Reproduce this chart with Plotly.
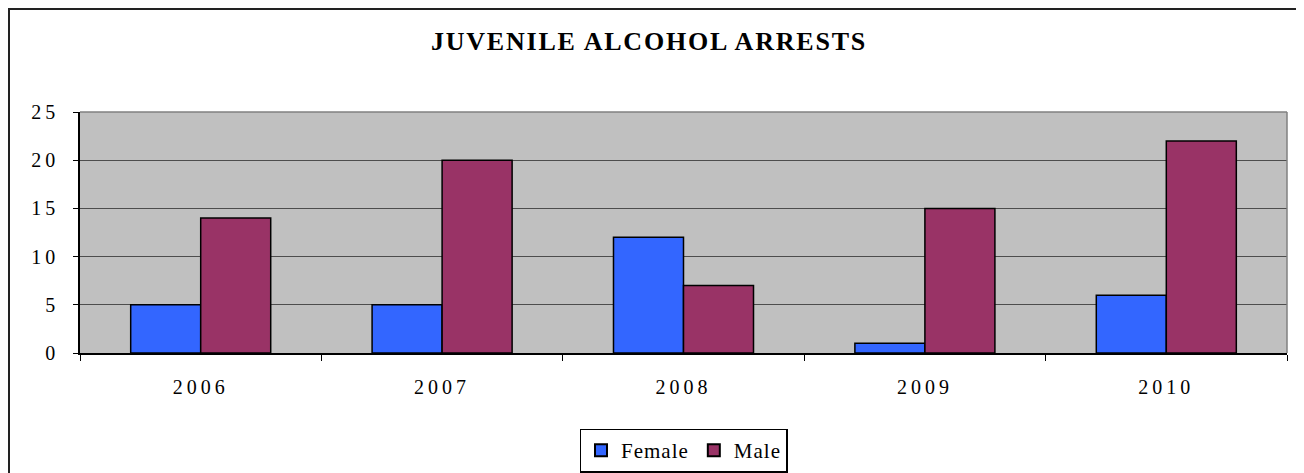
### Imports ###
import plotly.graph_objects as go


### Data ###
years = ["2006", "2007", "2008", "2009", "2010"]
female = [5, 5, 12, 1, 6]
male = [14, 20, 7, 15, 22]
y_ticks = [0, 5, 10, 15, 20, 25]


def spaced(text, px=3):
    return f'<span style="letter-spacing:{px}px">{text}</span>'


### Plotting Functions ###
def plot_arrests():
    fig = go.Figure()
    fig.add_trace(go.Bar(x=years, y=female, name=spaced("Female", 1), marker_color="#3366FF",
                         marker_line=dict(color="black", width=1.5)))
    fig.add_trace(go.Bar(x=years, y=male, name=spaced("Male", 1), marker_color="#993366",
                         marker_line=dict(color="black", width=1.5)))

    # the page body adds an 8px offset, so the figure is 8px smaller
    fig.update_layout(
        width=1296,
        height=465,
        margin=dict(l=72, r=17, t=104, b=120, autoexpand=False),
        paper_bgcolor="white",
        plot_bgcolor="#C0C0C0",
        barmode="group",
        bargap=0.42,
        bargroupgap=0,
        font=dict(family="Liberation Serif", size=19, color="black"),
        title=dict(
            text="<b>" + spaced("JUVENILE ALCOHOL ARRESTS", 1.8) + "</b>",
            x=0.4946, xref="container", xanchor="center",
            y=1 - 33 / 465, yref="container", yanchor="middle",
            font=dict(size=26, family="Liberation Serif"),
        ),
        legend=dict(
            orientation="h",
            x=0.5, xanchor="center",
            y=-0.405, yanchor="middle",
            bordercolor="black", borderwidth=1.5,
            bgcolor="white",
            font=dict(size=21),
            itemsizing="constant",
            itemwidth=30,
        ),
        showlegend=True,
    )

    fig.update_xaxes(
        type="category",
        tickvals=years,
        ticktext=[spaced(y, 4) for y in years],
        tickson="boundaries",
        ticks="outside", ticklen=6, tickcolor="black", tickwidth=1,
        ticklabelstandoff=15,
        showline=True, linecolor="black", linewidth=1.5,
        showgrid=False,
        tickfont=dict(size=20),
    )
    fig.update_yaxes(
        range=[0, 25],
        tickvals=y_ticks,
        ticktext=[spaced(str(v), 4) for v in y_ticks],
        ticks="outside", ticklen=5, tickcolor="black", tickwidth=1,
        ticklabelstandoff=10,
        showline=True, linecolor="black", linewidth=1.5,
        showgrid=True, gridcolor="#4D4D4D", gridwidth=1,
        zeroline=False,
        tickfont=dict(size=20),
    )

    # plot area border (top and right)
    fig.add_shape(type="line", xref="paper", yref="paper", x0=0, x1=1, y0=1, y1=1,
                  line=dict(color="#808080", width=1.5))
    fig.add_shape(type="line", xref="paper", yref="paper", x0=1, x1=1, y0=0, y1=1,
                  line=dict(color="#808080", width=1.5))

    # outer chart frame
    fig.add_shape(type="rect", xref="paper", yref="paper",
                  x0=(1 - 72) / 1207, x1=1.2,
                  y0=-0.8, y1=(345 - 1) / 241,
                  line=dict(color="#222222", width=2), layer="below")

    return fig


if __name__ == "__main__":
    fig = plot_arrests()
    fig.write_html("out.html")
